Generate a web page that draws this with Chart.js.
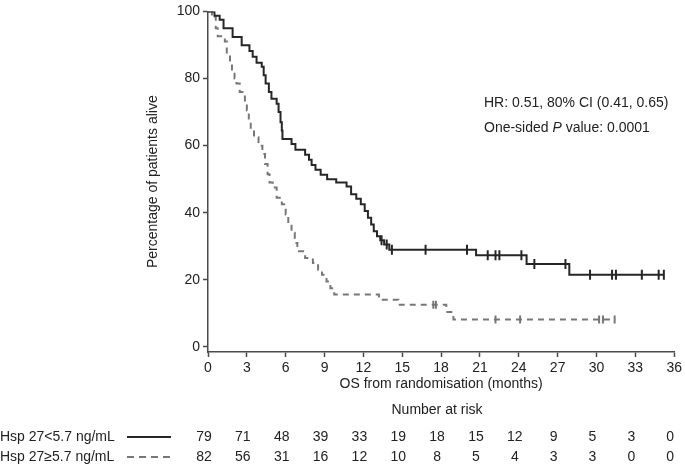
<!DOCTYPE html>
<html>
<head>
<meta charset="utf-8">
<script src="https://cdn.jsdelivr.net/npm/chart.js@4/dist/chart.umd.min.js"></script>
<style>
  html, body { margin: 0; padding: 0; background: #fff; }
</style>
</head>
<body>
<canvas id="km" width="685" height="466"></canvas>
<script>
// Kaplan-Meier steps (months, % alive)
const lowMonths = [0, 0.5, 0.9, 1.2, 1.9, 2.6, 3.2, 3.45, 3.75, 4.15, 4.3, 4.45, 4.7, 4.9, 5.3, 5.45, 5.6, 5.7, 5.75,
  6.45, 6.75, 7.5, 7.8, 8.0, 8.3, 8.7, 9.2, 9.9, 10.7, 11.05, 11.45, 11.8, 12.1, 12.35, 12.6, 12.8, 13.05, 13.3, 13.6,
  14.0, 20.7, 24.6, 27.9, 35.2];
const lowSurv = [100, 98.7, 97.5, 95, 92.4, 89.9, 88.2, 86.5, 84.7, 83.5, 81, 78.5, 76, 74, 72.5, 70, 67, 64.5, 62,
  60.5, 58.8, 57.3, 55.8, 54.2, 52.8, 51.3, 50, 49, 47.8, 45.5, 44.2, 42.5, 40.5, 38.5, 36.5, 34.5, 33, 31.8, 30.5,
  29, 27.3, 24.7, 21.5, 21.5];
const lowCensor = [13.4, 13.8, 14.2, 16.8, 20.0, 21.6, 22.2, 22.5, 24.2, 25.2, 27.6, 29.5, 31.2, 31.5, 33.5, 34.8, 35.2];

const highMonths = [0, 0.4, 0.6, 0.75, 1.3, 1.45, 1.7, 1.85, 2.05, 2.2, 2.45, 2.85, 3.0, 3.15, 3.3, 3.55, 3.9, 4.2,
  4.4, 4.6, 4.75, 5.0, 5.3, 5.7, 6.0, 6.2, 6.45, 6.7, 6.9, 7.5, 8.1, 8.5, 8.8, 9.15, 9.45, 9.75, 13.2, 14.7, 18.4,
  18.95, 31.4];
const highSurv = [100, 98.5, 95, 92.6, 91, 87, 84.5, 82, 80, 78.5, 76, 73, 70.5, 67.5, 65, 62.5, 60, 57.5,
  54.5, 51.5, 49, 47.5, 44.5, 42.5, 39.5, 36.5, 34, 31, 28.5, 26.5, 25, 23, 21.5, 19.5, 17.5, 15.6, 14.1, 12.6, 10.4,
  8.2, 8.2];
const highCensor = [0.3, 17.4, 17.6, 22.2, 24.1, 30.2, 30.5, 31.4];

const xTicks = [0, 3, 6, 9, 12, 15, 18, 21, 24, 27, 30, 33, 36];
const yTicks = [0, 20, 40, 60, 80, 100];

const lowLabel = "Hsp 27<5.7 ng/mL";
const highLabel = "Hsp 27\u22655.7 ng/mL";
const lowRisk = [79, 71, 48, 39, 33, 19, 18, 15, 12, 9, 5, 3, 0];
const highRisk = [82, 56, 31, 16, 12, 10, 8, 5, 4, 3, 3, 0, 0];

const FONT = "'Liberation Sans', Arial, Helvetica, sans-serif";
const TXT = "#222";
const AXIS = "#4a4a4a";
const SOLID = "#262626";
const DASH = "#777";

function toPoints(xs, ys) {
  return xs.map((x, i) => ({ x: x, y: ys[i] }));
}

// value of a step curve at time t
function survAt(xs, ys, t) {
  let v = ys[0];
  for (let i = 0; i < xs.length; i++) {
    if (xs[i] <= t) v = ys[i];
  }
  return v;
}

function censorPoints(times, xs, ys) {
  return times.map(t => ({ x: t, y: survAt(xs, ys, t) }));
}

const textPlugin = {
  id: "kmText",
  afterDraw(chart) {
    const ctx = chart.ctx;
    const xs = chart.scales.x;
    ctx.save();
    ctx.fillStyle = TXT;
    ctx.textBaseline = "middle";
    ctx.font = "14px " + FONT;

    // HR annotation
    ctx.textAlign = "left";
    ctx.fillText("HR: 0.51, 80% CI (0.41, 0.65)", 484, 103);
    let px = 484;
    const parts = [["One-sided ", ""], ["P", "italic "], [" value: 0.0001", ""]];
    parts.forEach(p => {
      ctx.font = p[1] + "14px " + FONT;
      ctx.fillText(p[0], px, 128);
      px += ctx.measureText(p[0]).width;
    });

    // number at risk table
    ctx.font = "14px " + FONT;
    ctx.textAlign = "center";
    ctx.fillText("Number at risk", 437, 410);

    ctx.textAlign = "left";
    ctx.fillText(lowLabel, 0, 437);
    ctx.fillText(highLabel, 0, 457);

    ctx.lineWidth = 2;
    ctx.strokeStyle = SOLID;
    ctx.beginPath();
    ctx.moveTo(127, 437);
    ctx.lineTo(171, 437);
    ctx.stroke();
    ctx.strokeStyle = DASH;
    ctx.setLineDash([7, 5]);
    ctx.beginPath();
    ctx.moveTo(127, 457);
    ctx.lineTo(171, 457);
    ctx.stroke();
    ctx.setLineDash([]);

    ctx.textAlign = "center";
    xTicks.forEach((t, i) => {
      const x = xs.getPixelForValue(t) - 4;
      ctx.fillText(String(lowRisk[i]), x, 437);
      ctx.fillText(String(highRisk[i]), x, 457);
    });
    ctx.restore();
  }
};

new Chart(document.getElementById("km"), {
  type: "line",
  data: {
    datasets: [
      {
        data: toPoints(lowMonths, lowSurv),
        stepped: true,
        borderColor: SOLID,
        borderWidth: 2,
        pointRadius: 0,
        fill: false
      },
      {
        data: toPoints(highMonths, highSurv),
        stepped: true,
        borderColor: DASH,
        borderWidth: 2,
        borderDash: [6, 5],
        pointRadius: 0,
        fill: false
      },
      {
        data: censorPoints(lowCensor, lowMonths, lowSurv),
        showLine: false,
        pointStyle: "line",
        rotation: 90,
        pointRadius: 5,
        pointBorderWidth: 2,
        pointBorderColor: SOLID,
        borderColor: SOLID
      },
      {
        data: censorPoints(highCensor, highMonths, highSurv),
        showLine: false,
        pointStyle: "line",
        rotation: 90,
        pointRadius: 4,
        pointBorderWidth: 2,
        pointBorderColor: DASH,
        borderColor: DASH
      }
    ]
  },
  options: {
    responsive: false,
    animation: false,
    layout: { padding: { left: 141, right: 8, top: 5, bottom: 69 } },
    plugins: {
      legend: { display: false },
      tooltip: { enabled: false }
    },
    scales: {
      x: {
        type: "linear",
        min: 0,
        max: 36,
        afterBuildTicks: s => { s.ticks = xTicks.map(v => ({ value: v })); },
        afterFit: s => { s.height = 45; },
        grid: { drawOnChartArea: false, drawTicks: true, tickLength: 5, color: AXIS, tickWidth: 1.5 },
        border: { display: true, color: AXIS, width: 1.5 },
        ticks: { color: TXT, font: { family: FONT, size: 14 }, padding: 3, maxRotation: 0 },
        title: { display: true, text: "OS from randomisation (months)", color: TXT, font: { family: FONT, size: 14 } }
      },
      y: {
        type: "linear",
        min: -1.5,
        max: 100,
        afterBuildTicks: s => { s.ticks = yTicks.map(v => ({ value: v })); },
        afterFit: s => { s.width = 67; },
        grid: { drawOnChartArea: false, drawTicks: true, tickLength: 5, color: AXIS, tickWidth: 1.5 },
        border: { display: true, color: AXIS, width: 1.5 },
        ticks: { color: TXT, font: { family: FONT, size: 14 }, padding: 3 },
        title: { display: true, text: "Percentage of patients alive", color: TXT, font: { family: FONT, size: 14 } }
      }
    }
  },
  plugins: [textPlugin]
});
</script>
</body>
</html>
